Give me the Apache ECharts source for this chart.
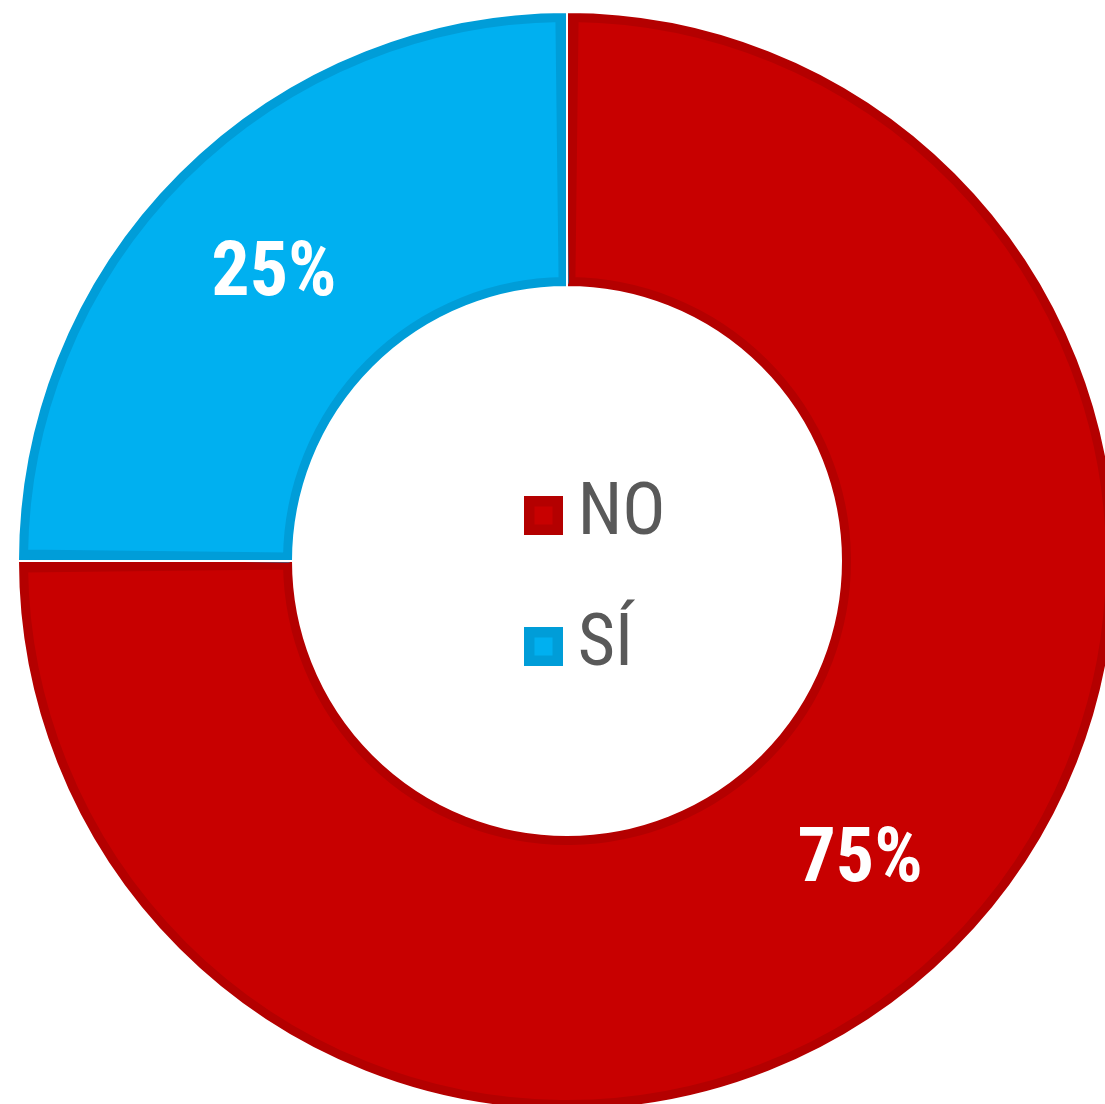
<!DOCTYPE html>
<html>
<head>
<meta charset="utf-8">
<script src="https://cdn.jsdelivr.net/npm/echarts@6/dist/echarts.min.js"></script>
<style>
  html, body { margin: 0; padding: 0; background: #fff; }
  #chart { width: 1105px; height: 1104px; }
</style>
</head>
<body>
<div id="chart"></div>
<script>
var categories = ['NO', 'SÍ'];
var values = [75, 25];
var fillColors = ['#c80000', '#00b0f0'];
var edgeColors = ['#b40000', '#009dd8'];

var center = [567, 561];
var innerR = 274;
var outerR = 549;
var edge = 10;
// slices are inset by half the edge width (measured at the middle of the ring)
var midR = (innerR + outerR) / 2;
var padDeg = (edge / midR) * 180 / Math.PI;

function sliceData(styleFn) {
  return categories.map(function (name, i) {
    return { name: name, value: values[i], itemStyle: styleFn(i) };
  });
}

var chart = echarts.init(document.getElementById('chart'));

chart.setOption({
  backgroundColor: '#fff',
  animation: false,
  legend: {
    orient: 'vertical',
    left: 524,
    top: 478,
    padding: 0,
    itemWidth: 28.5,
    itemHeight: 28.5,
    itemGap: 56,
    icon: 'rect',
    selectedMode: false,
    textStyle: {
      color: '#595959',
      fontSize: 72,
      fontWeight: 'normal',
      lineHeight: 75,
      fontFamily: "'Roboto Condensed', 'Open Sans Condensed', sans-serif",
      padding: [0, 0, 0, 15]
    },
    data: categories.map(function (name, i) {
      return {
        name: name,
        itemStyle: {
          color: fillColors[i],
          borderColor: edgeColors[i],
          borderWidth: 10.5,
          borderJoin: 'miter'
        }
      };
    })
  },
  series: [
    {
      // darker base ring, shows as the slice edges
      type: 'pie',
      silent: true,
      center: center,
      radius: [innerR, outerR],
      startAngle: 90,
      label: { show: false },
      labelLine: { show: false },
      data: sliceData(function (i) { return { color: edgeColors[i] }; })
    },
    {
      type: 'pie',
      silent: true,
      center: center,
      radius: [innerR + edge / 2, outerR - edge / 2],
      startAngle: 90,
      padAngle: padDeg,
      label: {
        show: true,
        position: 'inside',
        formatter: '{d}%',
        color: '#fff',
        fontSize: 76,
        fontWeight: 'bold',
        fontFamily: "'Roboto Condensed', 'Open Sans Condensed', sans-serif"
      },
      labelLayout: { dy: 8 },
      labelLine: { show: false },
      data: sliceData(function (i) {
        return { color: fillColors[i], borderColor: edgeColors[i], borderWidth: edge };
      })
    },
    {
      // thin white gap between the slices
      type: 'pie',
      silent: true,
      center: center,
      radius: [innerR, outerR],
      startAngle: 90,
      label: { show: false },
      labelLine: { show: false },
      data: sliceData(function () {
        return { color: 'rgba(0,0,0,0)', borderColor: '#fff', borderWidth: 2 };
      })
    }
  ]
});
</script>
</body>
</html>
